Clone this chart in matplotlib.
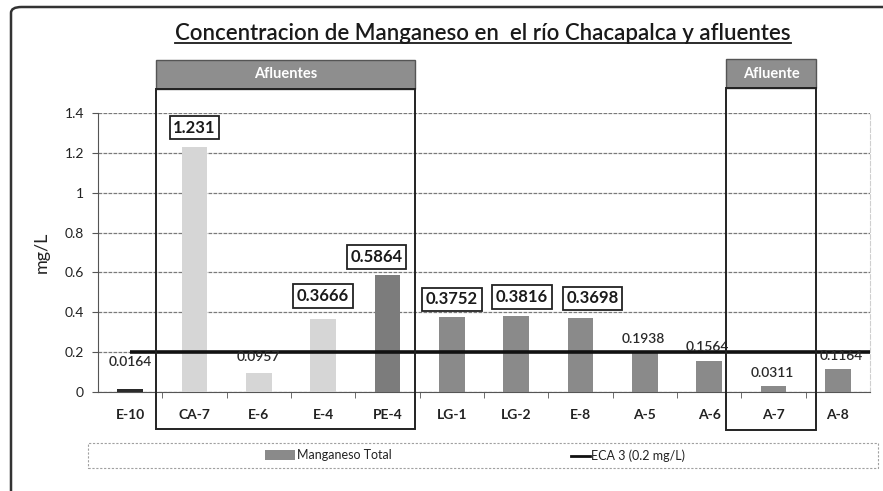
import matplotlib
matplotlib.use("Agg")
import matplotlib.pyplot as plt
from matplotlib.patches import Rectangle, FancyBboxPatch
from matplotlib.lines import Line2D

plt.rcParams['font.family'] = ['Lato', 'DejaVu Sans']

# ---- data ----
categories = ["E-10", "CA-7", "E-6", "E-4", "PE-4", "LG-1", "LG-2", "E-8", "A-5", "A-6", "A-7", "A-8"]
manganeso = [0.0164, 1.231, 0.0957, 0.3666, 0.5864, 0.3752, 0.3816, 0.3698, 0.1938, 0.1564, 0.0311, 0.1164]
eca_limit = 0.2
label_text = ["0.0164", "1.231", "0.0957", "0.3666", "0.5864", "0.3752", "0.3816", "0.3698", "0.1938", "0.1564", "0.0311", "0.1164"]
boxed = [False, True, False, True, True, True, True, True, False, False, False, False]
yticks = [0, 0.2, 0.4, 0.6, 0.8, 1.0, 1.2, 1.4]
ytick_labels = ["0", "0.2", "0.4", "0.6", "0.8", "1", "1.2", "1.4"]

# styles
bar_colors = ['#2a2a2a', '#d6d6d6', '#d6d6d6', '#d6d6d6', '#7c7c7c', '#8a8a8a', '#8a8a8a',
              '#8a8a8a', '#8a8a8a', '#8a8a8a', '#8a8a8a', '#8a8a8a']
label_dy = [27, 19, 16, 23, 18, 18, 19, 20, 14, 14, 13, 13]   # pixels above bar top
label_dx = [0, 0, 0, 0, -11, 0, 6, 12, -2, -2, -1, 3]

W, H = 883, 491
fig = plt.figure(figsize=(W / 100, H / 100), dpi=100)

def fx(px):
    return px / W

def fy(py):
    return 1 - py / H

ax = fig.add_axes([fx(98), fy(392), fx(870) - fx(98), fy(113) - fy(392)])
x = list(range(len(categories)))
ax.bar(x, manganeso, width=0.4, color=bar_colors, zorder=3)
ax.plot([0, 11.5], [eca_limit, eca_limit], color='#111111', lw=2.6, zorder=4, solid_capstyle='butt')

ax.set_xlim(-0.5, 11.5)
ax.set_ylim(0, 1.4)
ax.set_yticks(yticks)
ax.set_yticklabels(ytick_labels, fontsize=10, color='#222222')
ax.set_xticks(x)
ax.set_xticklabels(categories, fontsize=10, fontweight='bold', color='#222222')
ax.tick_params(axis='x', length=0, pad=12)
ax.set_xticks([i + 0.5 for i in range(len(categories) - 1)], minor=True)
ax.tick_params(axis='x', which='minor', length=4, direction='out', color='#555555')
ax.tick_params(axis='y', length=4, color='#555555', pad=6)
ax.yaxis.grid(True, color='#7a7a7a', lw=0.9, ls=(0, (3, 1)), zorder=0)
for s in ['top']:
    ax.spines[s].set_visible(False)
ax.spines['right'].set_color('#cfcfcf')
ax.spines['right'].set_linestyle((0, (4, 2)))
ax.spines['left'].set_color('#555555')
ax.spines['bottom'].set_color('#555555')
ax.set_ylabel("mg/L", fontsize=13, labelpad=11, color='#222222')

# value labels
for i, (v, t, b) in enumerate(zip(manganeso, label_text, boxed)):
    if b:
        ax.annotate(t, (i, v), xytext=(label_dx[i], label_dy[i]), textcoords='offset pixels',
                    ha='center', va='center', fontsize=12, fontweight='bold', color='#1a1a1a',
                    bbox=dict(boxstyle='square,pad=0.22', fc='white', ec='#222222', lw=1.3), zorder=6)
    else:
        ax.annotate(t, (i, v), xytext=(label_dx[i], label_dy[i]), textcoords='offset pixels',
                    ha='center', va='center', fontsize=10, fontweight='semibold', color='#2a2a2a', zorder=6)

# group boxes (Afluentes)
def group_box(x0, x1, ytop, yhead, ybot, text):
    fig.add_artist(Rectangle((fx(x0), fy(yhead)), fx(x1) - fx(x0), fy(ytop) - fy(yhead),
                             transform=fig.transFigure, fc='#8e8e8e', ec='#555555', lw=1.0, zorder=10))
    fig.add_artist(Rectangle((fx(x0), fy(ybot)), fx(x1) - fx(x0), fy(yhead) - fy(ybot),
                             transform=fig.transFigure, fc='none', ec='#222222', lw=1.4, zorder=10))
    fig.text((fx(x0) + fx(x1)) / 2, (fy(ytop) + fy(yhead)) / 2, text, ha='center', va='center',
             fontsize=10.5, fontweight='bold', color='white', zorder=11)

group_box(156, 415, 60, 89, 429, "Afluentes")
group_box(726, 816, 59, 88, 430, "Afluente")

# title with underline
title = fig.text(fx(483), fy(33), "Concentracion de Manganeso en  el río Chacapalca y afluentes",
                 ha='center', va='center', fontsize=16, fontweight='semibold', color='#1a1a1a')
fig.canvas.draw()
bb = title.get_window_extent(renderer=fig.canvas.get_renderer())
fig.add_artist(Line2D([bb.x0 / W, bb.x1 / W], [(bb.y0 + 1) / H, (bb.y0 + 1) / H],
                      transform=fig.transFigure, color='#1a1a1a', lw=1.3))

# legend
fig.add_artist(Rectangle((fx(88), fy(468)), fx(878) - fx(88), fy(443) - fy(468),
                         transform=fig.transFigure, fc='none', ec='#a0a0a0', lw=0.8, ls=(0, (2, 1.5))))
fig.add_artist(Rectangle((fx(265), fy(460)), fx(295) - fx(265), fy(450) - fy(460),
                         transform=fig.transFigure, fc='#8a8a8a', ec='none'))
fig.text(fx(297), fy(455), "Manganeso Total", ha='left', va='center', fontsize=9, color='#222222')
fig.add_artist(Line2D([fx(571), fx(590)], [fy(456), fy(456)], transform=fig.transFigure,
                      color='#111111', lw=2.0))
fig.text(fx(591), fy(456), "ECA 3 (0.2 mg/L)", ha='left', va='center', fontsize=9, color='#222222')

# outer frame (rounded, partly cut off)
fig.add_artist(FancyBboxPatch((fx(11), fy(540)), fx(940) - fx(11), fy(7) - fy(540),
                              boxstyle='round,pad=0,rounding_size=0.012', transform=fig.transFigure,
                              fc='none', ec='#333333', lw=1.8, clip_on=False))

fig.savefig("out.png", dpi=100)
